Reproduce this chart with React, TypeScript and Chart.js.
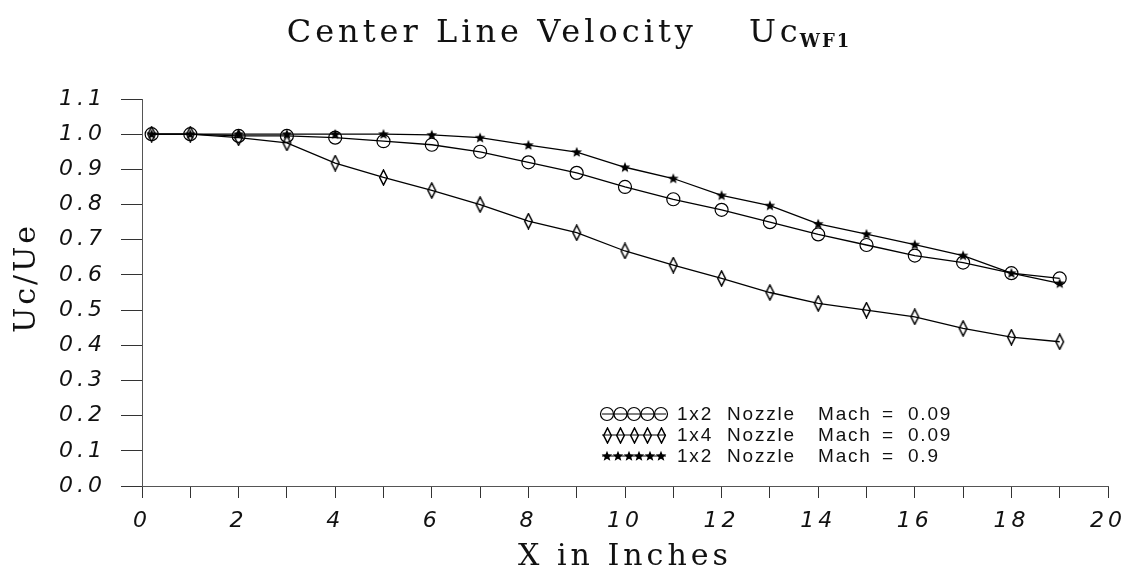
import { useEffect, useRef } from 'react';
import { Chart, registerables } from 'chart.js';

Chart.register(...registerables);

// ---- data ----
const xInches = [0.2, 1, 2, 3, 4, 5, 6, 7, 8, 9, 10, 11, 12, 13, 14, 15, 16, 17, 18, 19];
const uc1x2Mach009 = [1.0, 1.0, 0.995, 0.995, 0.99, 0.98, 0.97, 0.95, 0.92, 0.89, 0.85, 0.815, 0.785, 0.75, 0.715, 0.685, 0.655, 0.635, 0.605, 0.59];
const uc1x4Mach009 = [1.0, 1.0, 0.99, 0.975, 0.918, 0.877, 0.84, 0.8, 0.753, 0.72, 0.668, 0.628, 0.59, 0.55, 0.519, 0.5, 0.481, 0.448, 0.423, 0.41];
const uc1x2Mach09 = [1.0, 1.0, 1.0, 1.0, 1.0, 1.0, 0.998, 0.99, 0.969, 0.949, 0.906, 0.874, 0.826, 0.797, 0.745, 0.716, 0.686, 0.655, 0.605, 0.576];

const nozzleNames = ['1x2', '1x4', '1x2'];
const machNumbers = ['0.09', '0.09', '0.9'];
const xTickLabels = ['0', '2', '4', '6', '8', '10', '12', '14', '16', '18', '20'];
const yTickLabels = ['0.0', '0.1', '0.2', '0.3', '0.4', '0.5', '0.6', '0.7', '0.8', '0.9', '1.0', '1.1'];

const titleMain = 'Center Line Velocity';
const titleSymbol = 'Uc';
const titleSub = 'WF1';
const xTitle = 'X in Inches';
const yTitle = 'Uc/Ue';

function makeDiamond(): HTMLCanvasElement {
  const c = document.createElement('canvas');
  c.width = 11;
  c.height = 17;
  const g = c.getContext('2d')!;
  g.strokeStyle = '#000';
  g.lineWidth = 1.5;
  g.beginPath();
  g.moveTo(5.5, 1);
  g.lineTo(9.3, 8.5);
  g.lineTo(5.5, 16);
  g.lineTo(1.7, 8.5);
  g.closePath();
  g.stroke();
  return c;
}

function makeStar(): HTMLCanvasElement {
  const c = document.createElement('canvas');
  c.width = 12;
  c.height = 12;
  const g = c.getContext('2d')!;
  g.fillStyle = '#000';
  g.beginPath();
  const cx = 6, cy = 6.3, R = 5.6, r = 2.4;
  for (let i = 0; i < 10; i++) {
    const a = -Math.PI / 2 + (i * Math.PI) / 5;
    const rad = i % 2 === 0 ? R : r;
    const px = cx + rad * Math.cos(a);
    const py = cy + rad * Math.sin(a);
    if (i === 0) g.moveTo(px, py);
    else g.lineTo(px, py);
  }
  g.closePath();
  g.fill();
  return c;
}

const titlePlugin = {
  id: 'customTitle',
  afterDraw(chart: any) {
    const ctx = chart.ctx as CanvasRenderingContext2D;
    ctx.save();
    ctx.fillStyle = '#111';
    ctx.textBaseline = 'alphabetic';
    ctx.textAlign = 'left';
    const mainFont = '32px "DejaVu Serif"';
    const subFont = 'bold 18px "DejaVu Serif"';
    const gap = 52;
    ctx.font = mainFont;
    (ctx as any).letterSpacing = '4px';
    const w1 = ctx.measureText(titleMain).width;
    const w2 = ctx.measureText(titleSymbol).width;
    ctx.font = subFont;
    (ctx as any).letterSpacing = '2px';
    const w3 = ctx.measureText(titleSub).width;
    const total = w1 + gap + w2 + w3;
    let x = 570 - total / 2;
    const base = 42;
    ctx.font = mainFont;
    (ctx as any).letterSpacing = '4px';
    ctx.fillText(titleMain, x, base);
    x += w1 + gap;
    ctx.fillText(titleSymbol, x, base);
    x += w2;
    ctx.font = subFont;
    (ctx as any).letterSpacing = '2px';
    ctx.fillText(titleSub, x - 2, base + 5);

    // y-axis title
    ctx.font = '30px "DejaVu Serif"';
    (ctx as any).letterSpacing = '3px';
    ctx.textAlign = 'center';
    ctx.textBaseline = 'middle';
    ctx.translate(27, 278);
    ctx.rotate(-Math.PI / 2);
    ctx.fillText(yTitle, 0, 0);
    ctx.restore();
  },
};

const spacingPlugin = {
  id: 'spacing',
  beforeDraw(chart: any) {
    (chart.ctx as any).letterSpacing = '4px';
  },
  beforeDatasetsDraw(chart: any) {
    (chart.ctx as any).letterSpacing = '0px';
  },
};

const legendPlugin = {
  id: 'customLegend',
  afterDraw(chart: any) {
    const ctx = chart.ctx as CanvasRenderingContext2D;
    ctx.save();
    (ctx as any).letterSpacing = '0px';
    const top = 414;
    const rowH = 21;
    const counts = [5, 5, 6];
    chart.data.datasets.forEach((ds: any, i: number) => {
      const y = top + i * rowH;
      const x0 = 600, x1 = 668;
      ctx.strokeStyle = '#000';
      ctx.lineWidth = 1.2;
      ctx.beginPath();
      ctx.moveTo(x0 + 2, y);
      ctx.lineTo(x1 - 2, y);
      ctx.stroke();
      const n = counts[i];
      const step = (x1 - x0 - 14) / (n - 1);
      for (let k = 0; k < n; k++) {
        const cx = x0 + 7 + k * step;
        const st = ds.pointStyle;
        if (typeof st === 'string') {
          ctx.beginPath();
          ctx.arc(cx, y, 6.5, 0, Math.PI * 2);
          ctx.lineWidth = 1.2;
          ctx.stroke();
        } else {
          ctx.drawImage(st, Math.round(cx - st.width / 2), Math.round(y - st.height / 2), st.width, st.height);
        }
      }
      ctx.fillStyle = '#111';
      ctx.font = '19px "Liberation Sans"';
      ctx.textBaseline = 'middle';
      ctx.textAlign = 'left';
      (ctx as any).letterSpacing = '1.8px';
      ctx.fillText(nozzleNames[i], 677, y + 1);
      ctx.fillText('Nozzle', 727, y + 1);
      ctx.fillText('Mach', 818, y + 1);
      ctx.fillText('=', 882, y + 1);
      ctx.fillText(machNumbers[i], 908, y + 1);
    });
    ctx.restore();
  },
};

export default function App() {
  const ref = useRef<HTMLCanvasElement | null>(null);

  useEffect(() => {
    document.body.style.margin = '0';
    if (!ref.current) return;
    const diamond = makeDiamond();
    const star = makeStar();

    const toPts = (vals: number[]) => vals.map((v, i) => ({ x: xInches[i], y: v }));

    const chart = new Chart(ref.current, {
      type: 'line',
      data: {
        datasets: [
          {
            label: nozzleNames[0] + ' Nozzle Mach = ' + machNumbers[0],
            data: toPts(uc1x2Mach009),
            borderColor: '#000',
            borderWidth: 1.3,
            pointStyle: 'circle',
            pointRadius: 6.5,
            pointBorderWidth: 1.2,
            pointBorderColor: '#000',
            pointBackgroundColor: 'rgba(0,0,0,0)',
            tension: 0,
          },
          {
            label: nozzleNames[1] + ' Nozzle Mach = ' + machNumbers[1],
            data: toPts(uc1x4Mach009),
            borderColor: '#000',
            borderWidth: 1.3,
            pointStyle: diamond as any,
            pointRadius: 6,
            tension: 0,
          },
          {
            label: nozzleNames[2] + ' Nozzle Mach = ' + machNumbers[2],
            data: toPts(uc1x2Mach09),
            borderColor: '#000',
            borderWidth: 1.3,
            pointStyle: star as any,
            pointRadius: 6,
            tension: 0,
          },
        ],
      },
      options: {
        animation: false,
        responsive: true,
        maintainAspectRatio: false,
        layout: { padding: { top: 99, right: 14, left: 0, bottom: 0 } },
        plugins: {
          legend: { display: false },
          title: { display: false },
          tooltip: { enabled: false },
        },
        scales: {
          x: {
            type: 'linear',
            min: 0,
            max: 20,
            afterFit(scale: any) {
              scale.height = 91;
              scale.paddingLeft = 0;
              scale.paddingRight = 0;
            },
            ticks: {
              stepSize: 1,
              autoSkip: false,
              maxRotation: 0,
              padding: 10,
              color: '#111',
              font: { family: '"DejaVu Sans"', style: 'italic', weight: 200 as any, size: 22 },
              callback: (v: any) => (Number(v) % 2 === 0 ? xTickLabels[Number(v) / 2] : ''),
            },
            grid: {
              drawOnChartArea: false,
              drawTicks: true,
              tickLength: 12,
              color: '#333',
              lineWidth: 1,
            },
            border: { display: true, color: '#555', width: 1, dash: [10, 3] },
            title: {
              display: true,
              text: xTitle,
              color: '#111',
              font: { family: '"DejaVu Serif"', size: 30 },
              padding: { top: 0, bottom: 2 },
            },
          },
          y: {
            type: 'linear',
            min: 0,
            max: 1.1,
            afterFit(scale: any) {
              scale.width = 142;
              scale.paddingTop = 0;
              scale.paddingBottom = 0;
            },
            ticks: {
              stepSize: 0.1,
              padding: 15,
              color: '#111',
              font: { family: '"DejaVu Sans"', style: 'italic', weight: 200 as any, size: 22 },
              callback: (v: any) => yTickLabels[Math.round(Number(v) * 10)],
            },
            grid: {
              drawOnChartArea: false,
              drawTicks: true,
              tickLength: 21,
              color: '#333',
              lineWidth: 1,
            },
            border: { display: true, color: '#555', width: 1, dash: [10, 3] },
            title: { display: false },
          },
        },
      },
      plugins: [spacingPlugin, titlePlugin, legendPlugin],
    });
    return () => chart.destroy();
  }, []);

  return (
    <div style={{ position: 'fixed', left: 0, top: 0, width: 1122, height: 577, background: '#fff' }}>
      <canvas ref={ref} />
    </div>
  );
}
